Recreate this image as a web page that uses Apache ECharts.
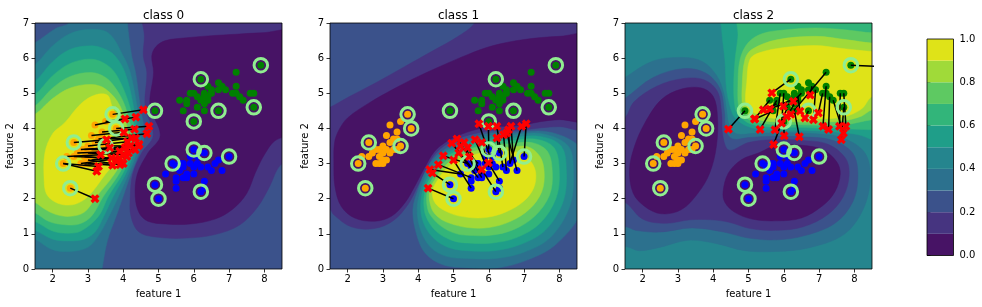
<!DOCTYPE html>
<html><head><meta charset="utf-8">
<script src="https://cdn.jsdelivr.net/npm/echarts@6/dist/echarts.min.js"></script>
<style>html,body{margin:0;padding:0;background:#fff}#c{width:982px;height:307px}</style>
</head><body><div id="c"></div>
<script>
// ---------- data ----------
const titles = ['class 0', 'class 1', 'class 2'];
const xTicks = [2, 3, 4, 5, 6, 7, 8];
const yTicks = [0, 1, 2, 3, 4, 5, 6, 7];
const cbTicks = [0, 0.2, 0.4, 0.6, 0.8, 1.0];
const levelEdges = [0, 0.1, 0.2, 0.3, 0.4, 0.5, 0.6, 0.7, 0.8, 0.9, 1.0];
const levelColors = ['#471365', '#463480', '#3b528b', '#2c718e', '#25858e', '#1f9e89', '#32b57a', '#5ec962', '#a0da39', '#dfe318'];

const classA = [[3.7,4.4],[3.8,4.0],[2.6,3.6],[3.5,3.5],[2.3,3.0],[2.5,2.3],[3.5,4.2],[3.4,3.9],[3.1,3.8],[3.3,3.7],[2.8,3.4],[3.0,3.5],[3.1,3.4],[3.2,3.3],[2.4,3.2],[2.6,3.2],[2.9,3.2],[3.0,3.1],[2.8,3.0],[3.0,3.0],[3.2,3.6],[3.2,4.1],[3.4,3.7],[2.9,3.4],[3.3,3.4],[2.7,3.3],[3.1,3.1],[2.9,3.0],[3.4,3.4],[3.0,3.3]];
const classB = [[6.0,3.4],[6.3,3.3],[7.0,3.2],[5.4,3.0],[4.9,2.4],[5.0,2.0],[6.2,2.2],[5.2,2.7],[5.5,2.9],[5.7,3.0],[5.9,3.0],[6.1,3.0],[5.7,2.9],[6.0,2.9],[6.2,2.9],[6.4,2.9],[6.5,2.8],[6.6,3.0],[6.7,3.1],[6.8,2.8],[5.6,2.8],[5.5,2.6],[5.5,2.5],[5.5,2.3],[5.7,2.6],[5.8,2.7],[6.0,2.7],[6.3,2.5],[5.9,3.2],[6.1,3.2],[5.6,3.0],[6.3,2.3],[5.8,2.6]];
const classC = [[6.2,5.4],[7.9,5.8],[4.9,4.5],[6.7,4.5],[7.7,4.6],[6.0,4.2],[7.2,5.6],[6.7,5.3],[6.4,5.2],[6.8,5.2],[7.2,5.2],[5.9,5.0],[6.0,5.0],[6.5,5.1],[6.7,5.1],[6.9,5.1],[7.1,5.0],[7.2,5.0],[7.3,4.9],[7.4,4.8],[7.6,5.0],[7.7,5.0],[5.6,4.8],[5.8,4.8],[5.8,4.7],[6.2,4.8],[6.3,4.7],[6.4,4.8],[6.3,4.9],[6.5,5.0],[5.7,4.5],[6.1,4.6],[6.3,4.5],[6.4,4.9],[6.3,5.0],[6.1,4.9]];
const rings = [[3.7,4.4],[3.8,4.0],[2.6,3.6],[3.5,3.5],[2.3,3.0],[2.5,2.3],[6.0,3.4],[6.3,3.3],[7.0,3.2],[5.4,3.0],[4.9,2.4],[5.0,2.0],[6.2,2.2],[6.2,5.4],[7.9,5.8],[4.9,4.5],[6.7,4.5],[7.7,4.6],[6.0,4.2]];

// links: [fromX, fromY, toX, toY]
const links0 = [[3.7,4.4,4.57,4.53],[3.5,4.2,4.36,4.32],[3.2,4.1,4.05,4.27],[3.8,4.0,4.73,4.06],[3.4,3.9,4.32,3.98],[3.1,3.8,4.02,3.89],[3.3,3.7,4.67,3.85],[3.2,3.6,4.24,3.73],[2.6,3.6,3.53,3.68],[3.5,3.5,4.43,3.51],[3.0,3.5,4.12,3.62],[2.8,3.4,3.62,3.45],[3.1,3.4,4.34,3.39],[2.9,3.4,4.05,3.45],[3.2,3.3,4.15,3.3],[2.7,3.3,3.9,3.35],[2.4,3.2,3.36,3.25],[2.6,3.2,3.67,3.16],[2.9,3.2,3.8,3.11],[3.0,3.1,3.91,2.97],[3.1,3.1,4.1,3.2],[2.8,3.0,3.9,3.15],[2.3,3.0,3.3,2.92],[2.3,3.0,3.25,2.78],[3.0,3.0,3.7,2.95],[2.9,3.0,4.0,3.0],[3.3,3.4,4.2,3.5],[3.4,3.7,4.35,3.72],[3.4,3.4,4.45,3.55],[3.0,3.3,4.0,3.25],[2.5,2.3,3.2,2.0]];
const links1 = [[5.0,2.0,4.28,2.3],[4.9,2.4,4.4,2.73],[5.2,2.7,4.33,2.83],[5.5,2.6,4.57,2.97],[5.4,3.0,4.71,3.22],[5.5,2.9,4.95,3.58],[5.7,3.0,5.2,3.5],[5.5,2.3,5.0,3.1],[5.6,2.8,5.3,3.6],[5.7,2.6,5.15,3.3],[5.8,2.7,5.4,3.45],[5.9,3.0,5.61,3.68],[6.0,2.9,5.8,3.6],[6.2,2.2,5.8,2.83],[6.3,2.5,5.99,3.02],[6.1,3.0,5.72,4.13],[6.0,3.4,5.99,4.06],[6.4,2.9,6.23,4.06],[6.3,3.3,6.23,3.73],[6.5,2.8,6.42,3.82],[6.6,3.0,6.56,3.96],[6.7,3.1,6.63,4.06],[6.8,2.8,6.51,3.87],[7.0,3.2,7.06,4.13],[6.6,3.0,6.93,4.06],[5.6,3.0,5.1,3.7],[5.8,2.6,5.45,3.2]];
const links2 = [[4.9,4.5,4.43,3.98],[5.6,4.8,5.17,4.27],[5.8,4.8,5.33,3.97],[5.8,4.7,5.42,4.53],[6.2,5.4,5.66,5.01],[5.9,5.0,5.75,3.96],[6.1,4.6,5.71,3.54],[6.0,5.0,5.94,4.15],[6.0,4.2,6.01,3.79],[6.4,4.8,5.99,4.63],[6.5,5.0,6.27,4.77],[6.4,4.9,6.46,4.49],[6.3,4.5,6.44,3.76],[7.2,5.6,6.2,4.4],[6.9,5.1,6.84,4.25],[7.1,5.0,6.98,4.44],[7.2,5.2,7.11,4.06],[7.3,4.9,7.27,3.97],[7.6,5.0,7.58,4.06],[7.7,5.0,7.76,4.06],[7.7,4.6,7.63,3.68],[7.4,4.8,7.69,3.87],[6.7,4.5,6.6,4.3],[7.9,5.8,9.6,5.72],[6.2,4.8,5.61,4.55],[6.3,4.7,6.08,4.34],[6.8,5.2,6.75,4.95],[5.7,4.5,5.18,4.27]];

// contour regions: [level, outline points in data units]
const bgBox = [[0.5,-1.5],[9.5,-1.5],[9.5,8.5],[0.5,8.5]];
const contours0 = [
  [2, bgBox],
  [1, [[4.57,6.06],[4.6,6.6],[4.6,7.6],[9.0,7.6],[9.0,3.3],[8.45,2.95],[8.15,2.35],[7.8,1.75],[7.3,1.25],[6.6,0.98],[5.8,0.88],[5.0,0.9],[4.45,1.05],[4.22,1.5],[4.2,2.07],[4.27,2.7],[4.52,3.3],[4.85,3.8],[4.62,4.64],[4.67,5.59]]],
  [0, [[4.81,6.06],[4.92,6.32],[5.2,6.5],[5.8,6.58],[6.5,6.64],[7.2,6.68],[7.9,6.72],[9.0,6.7],[9.0,4.0],[8.3,3.65],[8.0,3.25],[7.75,2.75],[7.5,2.15],[7.1,1.7],[6.6,1.42],[5.9,1.28],[5.2,1.28],[4.7,1.36],[4.45,1.6],[4.34,2.07],[4.4,2.7],[4.7,3.3],[5.05,3.8],[4.76,4.64],[4.86,5.59]]],
  [3, [[1.0,6.2],[1.5,6.44],[2.1,6.85],[2.45,7.0],[2.6,7.6],[4.1,7.6],[4.12,7.0],[4.24,6.06],[4.35,5.59],[4.48,4.64],[4.6,3.8],[4.45,3.3],[4.22,2.7],[4.0,2.07],[3.8,1.5],[3.55,0.8],[3.4,0.0],[3.3,-0.6],[1.0,-0.6]]],
  [4, [[1.0,5.6],[1.5,5.82],[2.0,6.35],[2.5,6.7],[3.1,6.82],[3.6,6.7],[4.0,6.06],[4.2,5.59],[4.39,4.64],[4.5,3.8],[4.38,3.3],[4.15,2.7],[3.87,2.07],[3.6,1.5],[3.3,0.95],[3.0,0.62],[2.5,0.5],[2.0,0.55],[1.5,0.85],[1.0,1.0]]],
  [5, [[1.0,5.15],[1.5,5.35],[2.0,5.9],[2.5,6.25],[3.1,6.35],[3.5,6.25],[3.77,6.06],[4.05,5.59],[4.29,4.64],[4.4,3.8],[4.3,3.3],[4.07,2.7],[3.72,2.07],[3.45,1.5],[3.2,1.05],[2.9,0.85],[2.45,0.8],[2.0,0.85],[1.5,1.1],[1.0,1.25]]],
  [6, [[1.0,4.8],[1.5,4.97],[2.0,5.5],[2.5,5.85],[3.1,5.97],[3.55,5.8],[3.85,5.45],[4.18,4.64],[4.33,3.8],[4.23,3.3],[3.98,2.7],[3.58,2.07],[3.3,1.5],[2.8,1.08],[2.4,1.02],[2.0,1.08],[1.5,1.35],[1.0,1.5]]],
  [7, [[1.0,4.45],[1.5,4.64],[2.0,5.15],[2.5,5.48],[3.1,5.59],[3.5,5.45],[3.78,5.15],[4.05,4.64],[4.25,3.8],[4.15,3.3],[3.88,2.7],[3.44,2.07],[3.1,1.5],[2.75,1.28],[2.35,1.26],[1.9,1.35],[1.5,1.6],[1.0,1.8]]],
  [8, [[1.0,4.2],[1.5,4.4],[2.0,4.85],[2.5,5.15],[3.1,5.25],[3.5,5.12],[3.91,4.64],[4.15,3.8],[4.07,3.3],[3.75,2.7],[3.25,2.07],[2.9,1.62],[2.5,1.5],[2.1,1.55],[1.75,1.72],[1.5,1.9],[1.0,2.1]]],
  [9, [[1.76,2.5],[1.78,3.3],[2.0,3.85],[2.35,4.17],[2.8,4.7],[3.2,4.95],[3.55,4.95],[3.68,4.64],[4.02,3.8],[3.95,3.3],[3.5,2.7],[3.01,2.07],[2.65,1.85],[2.3,1.83],[2.0,1.95],[1.82,2.15]]]
];
const contours1 = [
  [2, bgBox],
  [1, [[1.0,4.4],[1.5,4.6],[2.0,4.88],[2.8,5.3],[3.6,5.75],[4.4,6.2],[5.1,6.6],[5.6,7.0],[5.8,7.6],[9.0,7.6],[9.0,4.0],[8.0,4.05],[7.5,4.02],[7.0,3.96],[6.5,3.94],[6.0,3.93],[5.5,3.83],[5.1,3.7],[4.7,3.48],[4.42,3.2],[4.22,2.83],[3.98,2.35],[3.72,1.85],[3.3,1.38],[2.75,1.15],[2.1,1.2],[1.6,1.55],[1.5,1.7],[1.0,2.0]]],
  [0, [[1.63,3.6],[1.75,3.95],[2.0,4.3],[2.6,4.72],[3.3,5.12],[4.0,5.48],[4.7,5.8],[5.4,6.1],[6.1,6.35],[7.0,6.53],[8.0,6.62],[9.0,6.62],[9.0,4.25],[7.98,4.25],[7.5,4.2],[7.03,4.11],[6.56,4.06],[6.08,4.06],[5.61,3.96],[5.14,3.8],[4.76,3.6],[4.45,3.33],[4.18,2.88],[3.9,2.35],[3.62,1.88],[3.24,1.5],[2.77,1.36],[2.2,1.45],[1.82,1.78],[1.64,2.35],[1.61,3.02]]],
  [3, [[4.02,2.32],[3.85,1.7],[3.95,1.0],[4.2,0.45],[4.7,0.12],[5.4,0.03],[6.25,0.03],[7.1,0.26],[7.9,0.7],[8.6,1.6],[8.7,2.75],[8.6,3.45],[7.7,3.9],[6.56,3.87],[6.08,3.87],[5.61,3.77],[5.14,3.61],[4.6,3.3],[4.27,2.9]]],
  [4, [[4.08,2.3],[3.97,1.7],[4.07,1.1],[4.35,0.62],[4.8,0.36],[5.4,0.3],[6.2,0.3],[7.0,0.48],[7.75,0.9],[8.3,1.8],[8.4,2.75],[8.25,3.5],[7.5,3.85],[6.56,3.8],[6.08,3.8],[5.61,3.7],[5.14,3.54],[4.64,3.25],[4.32,2.86]]],
  [5, [[4.14,2.28],[4.07,1.7],[4.2,1.2],[4.5,0.82],[4.9,0.6],[5.4,0.52],[6.15,0.52],[6.9,0.7],[7.6,1.1],[8.1,1.9],[8.2,2.75],[8.05,3.5],[7.4,3.78],[6.56,3.72],[6.08,3.72],[5.61,3.62],[5.14,3.46],[4.68,3.19],[4.37,2.8]]],
  [6, [[4.2,2.26],[4.17,1.7],[4.32,1.3],[4.6,1.0],[5.0,0.8],[5.4,0.74],[6.1,0.74],[6.8,0.9],[7.45,1.3],[7.9,2.0],[8.0,2.75],[7.85,3.45],[7.3,3.7],[6.56,3.64],[6.08,3.64],[5.61,3.54],[5.14,3.38],[4.71,3.12],[4.42,2.74]]],
  [7, [[4.26,2.24],[4.27,1.7],[4.45,1.4],[4.75,1.15],[5.1,1.0],[5.4,0.96],[6.05,0.96],[6.7,1.12],[7.3,1.5],[7.72,2.1],[7.8,2.75],[7.66,3.35],[7.2,3.6],[6.56,3.56],[6.08,3.56],[5.61,3.46],[5.14,3.3],[4.74,3.04],[4.47,2.68]]],
  [8, [[4.32,2.22],[4.38,1.72],[4.6,1.45],[4.9,1.3],[5.4,1.18],[6.0,1.18],[6.6,1.35],[7.15,1.7],[7.5,2.2],[7.57,2.75],[7.45,3.2],[7.1,3.48],[6.56,3.46],[6.08,3.46],[5.61,3.36],[5.14,3.2],[4.77,2.95],[4.52,2.62]]],
  [9, [[4.4,2.2],[4.5,1.85],[4.9,1.59],[5.4,1.47],[5.95,1.47],[6.5,1.63],[6.98,1.92],[7.27,2.3],[7.33,2.73],[7.2,3.05],[6.95,3.28],[6.56,3.36],[6.08,3.36],[5.61,3.26],[5.14,3.1],[4.8,2.85],[4.56,2.55]]]
];
const contours2 = [
  [4, bgBox],
  [3, [[1.0,0.5],[1.5,0.64],[1.9,0.52],[2.5,0.62],[3.3,0.82],[4.1,0.72],[4.9,0.52],[5.8,0.5],[6.7,0.6],[7.7,0.98],[8.25,1.7],[8.45,2.6],[8.3,3.3],[7.7,3.72],[7.0,3.84],[6.0,3.88],[5.2,3.86],[4.65,3.85],[4.45,4.1],[4.38,4.5],[4.3,5.0],[4.1,5.5],[3.7,5.9],[3.15,6.02],[2.3,5.92],[1.5,5.45],[1.0,5.1]]],
  [2, [[1.0,1.0],[1.5,1.2],[1.8,1.1],[2.5,1.05],[3.4,1.17],[4.3,1.05],[5.0,0.88],[5.8,0.83],[6.6,0.95],[7.45,1.3],[7.95,1.9],[8.1,2.65],[7.95,3.3],[7.35,3.67],[6.5,3.76],[5.7,3.78],[5.0,3.74],[4.55,3.7],[4.35,3.95],[4.32,4.45],[4.18,5.15],[3.78,5.58],[3.15,5.7],[2.3,5.45],[1.5,4.85],[1.0,4.5]]],
  [1, [[1.0,2.0],[1.5,1.9],[2.0,1.42],[2.65,1.3],[3.35,1.4],[3.95,1.4],[4.45,1.33],[5.05,1.15],[5.8,1.1],[6.55,1.2],[7.25,1.55],[7.68,2.05],[7.85,2.65],[7.75,3.15],[7.25,3.55],[6.5,3.66],[5.7,3.68],[5.0,3.6],[4.45,3.38],[4.27,3.8],[4.24,4.4],[4.12,5.05],[3.75,5.38],[3.15,5.42],[2.4,5.2],[1.75,4.75],[1.5,4.3],[1.0,4.0]]],
  [0, [[1.63,2.83],[1.77,3.49],[2.06,4.15],[2.53,4.82],[3.1,5.12],[3.67,5.15],[4.0,4.91],[4.12,4.34],[4.09,3.49],[3.9,2.73],[3.57,2.16],[3.1,1.69],[2.53,1.57],[2.06,1.78],[1.73,2.16]]],
  [0, [[4.28,2.2],[4.43,2.73],[4.8,3.11],[5.28,3.3],[5.8,3.52],[6.5,3.52],[7.1,3.4],[7.5,3.05],[7.6,2.7],[7.45,2.2],[7.1,1.8],[6.5,1.45],[5.8,1.37],[5.1,1.42],[4.6,1.62],[4.33,1.9]]],
  [5, [[4.24,7.6],[4.24,6.8],[4.33,5.96],[4.38,5.1],[4.5,4.55],[4.62,4.3],[5.0,4.05],[5.6,3.96],[6.3,3.95],[7.0,3.93],[7.7,3.88],[8.2,3.8],[8.5,3.68],[9.0,3.6],[9.0,7.6]]],
  [6, [[4.76,7.6],[4.7,6.6],[4.62,5.96],[4.58,5.2],[4.62,4.6],[4.72,4.38],[5.05,4.13],[5.6,4.04],[6.3,4.03],[7.0,4.01],[7.7,3.99],[8.5,3.96],[9.0,3.95],[9.0,7.6]]],
  [7, [[9.0,6.75],[8.5,6.72],[7.8,6.8],[6.9,6.86],[6.0,6.8],[5.4,6.7],[5.0,6.45],[4.76,5.96],[4.7,5.2],[4.72,4.62],[4.82,4.42],[5.1,4.21],[5.6,4.12],[6.3,4.11],[7.0,4.09],[7.7,4.1],[8.5,4.25],[9.0,4.3]]],
  [8, [[9.0,6.45],[8.5,6.43],[7.8,6.52],[6.9,6.62],[5.8,6.52],[5.1,6.25],[4.9,5.96],[4.82,5.2],[4.83,4.65],[4.92,4.47],[5.15,4.29],[5.6,4.2],[6.3,4.19],[7.0,4.18],[7.7,4.22],[8.2,4.35],[8.5,4.53],[9.0,4.6]]],
  [9, [[9.0,6.2],[8.5,6.19],[7.6,6.28],[6.9,6.36],[6.0,6.3],[5.3,6.15],[5.04,5.96],[4.95,5.3],[4.92,4.75],[5.02,4.55],[5.25,4.4],[5.7,4.29],[6.3,4.27],[7.0,4.27],[7.7,4.33],[8.2,4.55],[8.5,4.91],[9.0,5.0]]]
];

// ---------- chart ----------
const FONT = 'DejaVu Sans';
const panelContours = [contours0, contours1, contours2];
const panelLinks = [links0, links1, links2];
const panelLeft = [35, 330, 625];
const PW = 247, PH = 246, PT = 23;
const xSym = 'path://M0,2.6L2.6,0L5,2.4L7.4,0L10,2.6L7.6,5L10,7.4L7.4,10L5,7.6L2.6,10L0,7.4L2.4,5Z';

const grids = [], xAxes = [], yAxes = [], series = [], titleOpts = [];
for (let i = 0; i < 3; i++) {
  grids.push({left: panelLeft[i], top: PT, width: PW, height: PH, show: true, borderColor: '#000', borderWidth: 0.8, backgroundColor: 'transparent', z: 10});
  titleOpts.push({text: titles[i], left: panelLeft[i] + PW / 2, top: 5, textAlign: 'center',
    textStyle: {fontSize: 12, fontWeight: 'normal', color: '#000', fontFamily: FONT}});
  xAxes.push({gridIndex: i, type: 'value', min: 1.5, max: 8.5,
    splitLine: {show: false}, axisLine: {show: false},
    axisTick: {show: true, customValues: xTicks, length: 3.5, lineStyle: {color: '#000', width: 0.8}},
    axisLabel: {customValues: xTicks, color: '#000', fontSize: 10, fontFamily: FONT, margin: 5},
    name: 'feature 1', nameLocation: 'middle', nameGap: 20,
    nameTextStyle: {color: '#000', fontSize: 10, fontFamily: FONT}});
  yAxes.push({gridIndex: i, type: 'value', min: 0, max: 7, interval: 1,
    splitLine: {show: false}, axisLine: {show: false},
    axisTick: {show: true, customValues: yTicks, length: 3.5, lineStyle: {color: '#000', width: 0.8}},
    axisLabel: {customValues: yTicks, color: '#000', fontSize: 10, fontFamily: FONT, margin: 6},
    name: 'feature 2', nameLocation: 'middle', nameGap: 20,
    nameTextStyle: {color: '#000', fontSize: 10, fontFamily: FONT}});

  const cont = panelContours[i];
  series.push({type: 'custom', xAxisIndex: i, yAxisIndex: i, clip: true, silent: true, z: 1,
    data: cont.map((c, k) => [k]),
    renderItem: (params, api) => {
      const c = cont[params.dataIndex];
      return {type: 'polygon', shape: {points: c[1].map(p => api.coord(p)), smooth: params.dataIndex === 0 ? 0 : 0.35},
        style: {fill: levelColors[c[0]], stroke: levelColors[c[0]], lineWidth: 0.5}};
    }});
  const pts = [[classA, '#ffa500'], [classB, '#0000ff'], [classC, '#008000']];
  pts.forEach(([arr, col]) => series.push({type: 'scatter', xAxisIndex: i, yAxisIndex: i, data: arr,
    symbolSize: 7, itemStyle: {color: col, opacity: 1}, z: 2, silent: true}));
  const lk = panelLinks[i];
  series.push({type: 'lines', coordinateSystem: 'cartesian2d', xAxisIndex: i, yAxisIndex: i, clip: true,
    data: lk.map(l => ({coords: [[l[0], l[1]], [l[2], l[3]]]})),
    lineStyle: {color: '#000', width: 1.5, opacity: 1}, z: 3, silent: true});
  series.push({type: 'scatter', xAxisIndex: i, yAxisIndex: i, data: rings, symbol: 'circle', symbolSize: 13.5,
    itemStyle: {color: 'rgba(0,0,0,0)', borderColor: '#90ee90', borderWidth: 3, opacity: 1}, z: 4, silent: true});
  series.push({type: 'scatter', xAxisIndex: i, yAxisIndex: i, data: lk.map(l => [l[2], l[3]]), symbol: xSym,
    symbolSize: 9, itemStyle: {color: '#ff0000', opacity: 1}, z: 5, silent: true, clip: true});
}
// colorbar
grids.push({left: 927, top: 39, width: 26.5, height: 216.5, show: true, borderColor: '#000', borderWidth: 0.8, backgroundColor: 'transparent', z: 10});
xAxes.push({gridIndex: 3, type: 'value', min: 0, max: 1, show: false});
yAxes.push({gridIndex: 3, type: 'value', min: 0, max: 1, interval: 0.2, position: 'right',
  splitLine: {show: false}, axisLine: {show: false},
  axisTick: {show: true, length: 3.5, lineStyle: {color: '#000', width: 0.8}},
  axisLabel: {customValues: cbTicks, color: '#000', fontSize: 10, fontFamily: FONT, margin: 6, formatter: v => v.toFixed(1)}});
series.push({type: 'custom', xAxisIndex: 3, yAxisIndex: 3, silent: true, z: 1,
  data: levelColors.map((c, k) => [k]),
  renderItem: (params, api) => {
    const k = params.dataIndex;
    const a = api.coord([0, levelEdges[k]]), b = api.coord([1, levelEdges[k + 1]]);
    return {type: 'rect', shape: {x: a[0], y: b[1], width: b[0] - a[0], height: a[1] - b[1]}, style: {fill: levelColors[k]}};
  }});

const chart = echarts.init(document.getElementById('c'), null, {renderer: 'canvas'});
chart.setOption({animation: false, backgroundColor: '#fff', title: titleOpts, grid: grids, xAxis: xAxes, yAxis: yAxes, series: series});
</script></body></html>
